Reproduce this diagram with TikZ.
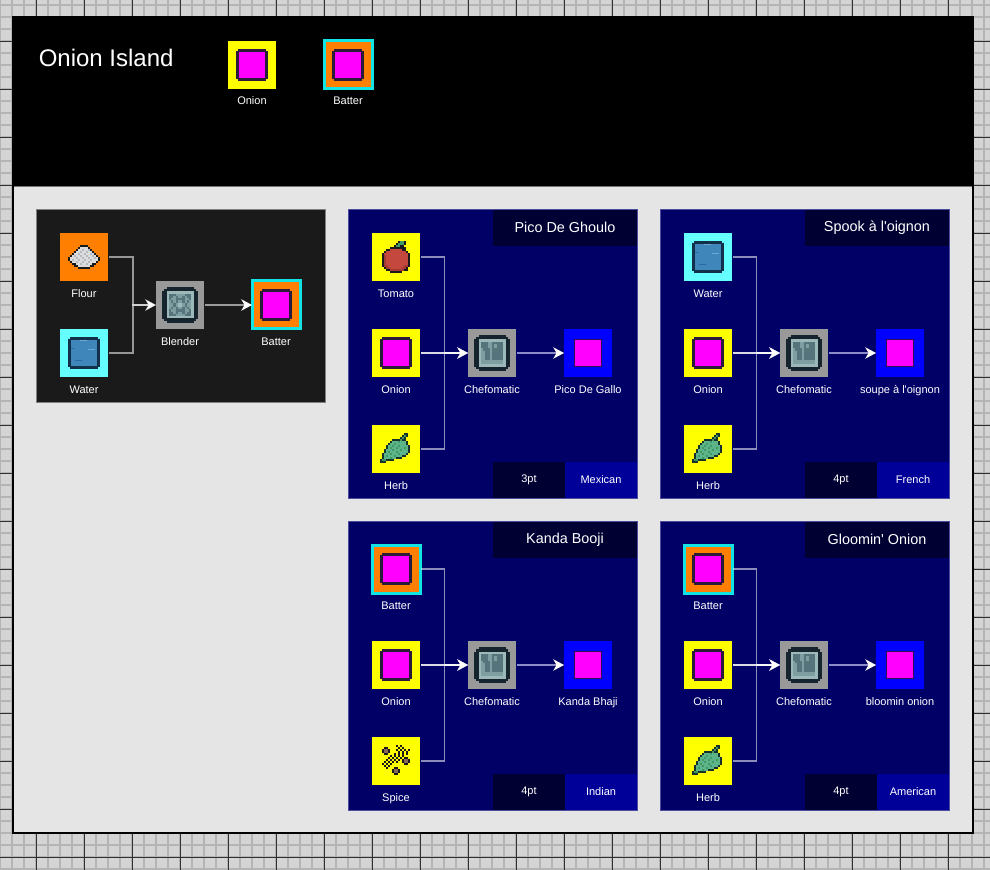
\documentclass[tikz,border=0pt]{standalone}
\usepackage{fontspec}
\setmainfont{Liberation Sans}
\usetikzlibrary{arrows.meta}
\definecolor{gridbg}{HTML}{D4D4D4}
\definecolor{gridminor}{HTML}{B4B4B4}
\definecolor{gridmajor}{HTML}{303030}
\definecolor{mainbg}{HTML}{E5E5E5}
\definecolor{cardbg}{HTML}{1A1A1A}
\definecolor{cardedge}{HTML}{808080}
\definecolor{navy}{HTML}{000066}
\definecolor{navyedge}{HTML}{4D4D9E}
\definecolor{navydark}{HTML}{000033}
\definecolor{navymid}{HTML}{000099}
\definecolor{itemyellow}{HTML}{FFFF00}
\definecolor{itemorange}{HTML}{FF8000}
\definecolor{itemcyan}{HTML}{66FFFF}
\definecolor{battedge}{HTML}{10E4E4}
\definecolor{machinegray}{HTML}{999999}
\definecolor{dishblue}{HTML}{0000FF}
\definecolor{dishedge}{HTML}{301050}
\definecolor{outwirecard}{HTML}{9A9A9A}
\definecolor{outwirenavy}{HTML}{8C8CC8}
% sprite palette
\definecolor{spa}{HTML}{2B1B3A}
\definecolor{spm}{HTML}{FF00FF}
\definecolor{spn}{HTML}{12304A}
\definecolor{spw}{HTML}{3F86BB}
\definecolor{spx}{HTML}{6AAAD4}
\definecolor{spy}{HTML}{2B6A9E}
\definecolor{spk}{HTML}{1A1A1A}
\definecolor{spo}{HTML}{DCDCDC}
\definecolor{spp}{HTML}{B4B8C0}
\definecolor{spq}{HTML}{16242E}
\definecolor{spl}{HTML}{9DB8B8}
\definecolor{spf}{HTML}{7F9EA2}
\definecolor{spd}{HTML}{56747C}
\definecolor{spr}{HTML}{C4483E}
\definecolor{sps}{HTML}{A33A34}
\definecolor{spG}{HTML}{3F9A66}
\definecolor{spH}{HTML}{16332A}
\definecolor{spg}{HTML}{5CB488}
\definecolor{spb}{HTML}{8A6A58}
\newcount\sprX
\newcount\sprY
\def\sprow#1{\sprX=0 \sprowaux#1\relax \advance\sprY by 1 }
\def\sprowaux#1{\ifx#1\relax\else\if#1.\else\fill[color=sp#1] (\the\sprX,\the\sprY) rectangle +(1.04,1.04);\fi\advance\sprX by 1 \expandafter\sprowaux\fi}
\newcommand\drawsprite[3]{\begin{scope}[shift={(#1.center)},x=#2,y=-#2,shift={(-8,-8)}]\sprY=0 #3\end{scope}}
\newcommand\spriteOnion[1]{\drawsprite{#1}{1.5pt}{%
\fill[spa] (1,0) rectangle (15,16);
\fill[spa] (0,1) rectangle (16,15);
\fill[spm] (1.4,1.4) rectangle (14.6,14.6);}}
\let\spriteBatter\spriteOnion
\newcommand\spriteWater[1]{\drawsprite{#1}{1.5pt}{%
\fill[spn] (1,0) rectangle (15,16);
\fill[spn] (0,1) rectangle (16,15);
\fill[spw] (1.4,1.4) rectangle (14.6,14.6);
\fill[spx] (6,1.4) rectangle (9.5,2.1);
\fill[spx] (10,6) rectangle (13.5,6.7);
\fill[spy] (1.4,5.5) rectangle (3,6.2);
\fill[spy] (3.5,11.5) rectangle (7,12.2);}}
\newcommand\spriteFlour[1]{\drawsprite{#1}{1.5pt}{%
\sprow{................}\sprow{................}\sprow{......kkkk......}\sprow{.....kooook.....}%
\sprow{....koopoopk....}\sprow{...koopoopook...}\sprow{..koopoopoopok..}\sprow{.kopoopoopoopok.}%
\sprow{kooopoopoopoopok}\sprow{kopoopoopoopoook}\sprow{.koopoopoopoook.}\sprow{..kkoopoopookk..}%
\sprow{...kkooooookk...}\sprow{.....kkkkkk.....}\sprow{................}\sprow{................}}}
\newcommand\spriteBlender[1]{\drawsprite{#1}{1.6875pt}{%
\sprow{..qqqqqqqqqqqq..}\sprow{.qqqqqqqqqqqqqq.}\sprow{qqllllllllllllqq}%
\sprow{qqldddffffdddlqq}\sprow{qqlddfdffdfddlqq}\sprow{qqldffddddffdlqq}\sprow{qqlfdfdffdfdflqq}\sprow{qqlffdfllfdfflqq}%
\sprow{qqlffdfllfdfflqq}\sprow{qqlfdfdffdfdflqq}\sprow{qqldffddddffdlqq}\sprow{qqlddfdffdfddlqq}\sprow{qqldddffffdddlqq}%
\sprow{qqllllllllllllqq}\sprow{.qqqqqqqqqqqqqq.}\sprow{..qqqqqqqqqqqq..}}}
\newcommand\spriteChefomatic[1]{\drawsprite{#1}{1.6875pt}{%
\sprow{..qqqqqqqqqqqq..}\sprow{.qqqqqqqqqqqqqq.}\sprow{qqllllllllllllqq}%
\sprow{qqldddffdddddlqq}\sprow{qqldddffdfdddlqq}\sprow{qqldddffdfdddlqq}\sprow{qqlfdddfdddddlqq}\sprow{qqlffddfdddddlqq}%
\sprow{qqlffddfdddddlqq}\sprow{qqlffddfdddddlqq}\sprow{qqlffddfdddddlqq}\sprow{qqlfffffffffflqq}\sprow{qqlfffffffffflqq}%
\sprow{qqllllllllllllqq}\sprow{.qqqqqqqqqqqqqq.}\sprow{..qqqqqqqqqqqq..}}}
\newcommand\spriteTomato[1]{\drawsprite{#1}{1.5pt}{%
\sprow{.........kGGk...}\sprow{........kGGGk...}\sprow{.......kGGkk....}\sprow{.....kkkkkkkk...}%
\sprow{...kkrrrrrrkk...}\sprow{..krrrrrrrrrrk..}\sprow{.krrrrrrrrrrrrk.}\sprow{.ksrrrrrrrrrrrk.}%
\sprow{.ksrrrrrrrrrrrk.}\sprow{.ksrrrrrrrrrrrk.}\sprow{.ksrrrrrrrrrrrk.}\sprow{.ksrrrrrrrrrrrk.}%
\sprow{.kssrrrrrrrrssk.}\sprow{..kssrrrrrrssk..}\sprow{...kkssssssskk..}\sprow{.....kkkkkk.....}}}
\newcommand\spriteHerb[1]{\drawsprite{#1}{1.5pt}{%
\sprow{............HH..}\sprow{...........HGH..}\sprow{..........HGH...}\sprow{......HHHHGHH...}%
\sprow{.....HgggGgggH..}\sprow{....HggGgggggH..}\sprow{...HggGggGggggH.}\sprow{...HgGggGgggGgH.}%
\sprow{..HgggGgggGgggH.}\sprow{..HgGgggGgggggH.}\sprow{.HgggGgggGgggH..}\sprow{.HgGgggGgggHH...}%
\sprow{.HgggGggHHH.....}\sprow{HGGHHHH.........}\sprow{HHH.............}\sprow{................}}}
\newcommand\spriteSpice[1]{\drawsprite{#1}{1.5pt}{%
\sprow{........k.k.....}\sprow{..kk.....k.k....}\sprow{.kbbk...k.k.k.k.}\sprow{.kbbk....k.k.k..}%
\sprow{..kk...k.k.k.k..}\sprow{.....k.k.k.k....}\sprow{....k.k.k.k.kk..}\sprow{...k.k.k.k.kbbk.}%
\sprow{..k.k.k.k..kbbk.}\sprow{.k.k.k......kk..}\sprow{..k.k...........}\sprow{...k...kk.......}%
\sprow{......kbbk......}\sprow{......kbbk......}\sprow{.......kk.......}\sprow{................}}}
\tikzset{
  itembox/.style={rectangle,minimum size=36pt,inner sep=0pt,outer sep=0pt},
  kindOnion/.style={fill=itemyellow},
  kindTomato/.style={fill=itemyellow},
  kindHerb/.style={fill=itemyellow},
  kindSpice/.style={fill=itemyellow},
  kindFlour/.style={fill=itemorange},
  kindWater/.style={fill=itemcyan},
  kindBatter/.style={fill=itemorange,draw=battedge,line width=2.25pt},
  kindBlender/.style={fill=machinegray},
  kindChefomatic/.style={fill=machinegray},
  lab/.style={text=white,font=\fontsize{8.25pt}{10pt}\selectfont,inner sep=0pt},
  dishicon/.style={rectangle,minimum size=20pt,inner sep=0pt,fill=spm,draw=dishedge,line width=.9pt},
  panelbox/.style={rectangle,minimum width=216.75pt,minimum height=216.4pt,inner sep=0pt,outer sep=0pt,fill=navy,draw=navyedge,line width=.75pt},
  cardbox/.style={rectangle,minimum width=216.75pt,minimum height=144.75pt,inner sep=0pt,outer sep=0pt,fill=cardbg,draw=cardedge,line width=.75pt},
  titlebox/.style={rectangle,minimum width=108pt,minimum height=27.4pt,inner sep=0pt,fill=navydark,text=white,font=\fontsize{10.8pt}{12pt}\selectfont},
  tagbox/.style={rectangle,minimum width=54pt,minimum height=27pt,inner sep=0pt,text=white,font=\fontsize{8.25pt}{10pt}\selectfont},
  wire/.style={draw=white,draw opacity=.55,line width=1.1pt,shorten <=.75pt,-{Stealth[length=8pt,width=8.5pt,inset=2.4pt]}},
  strongwire/.style={wire,draw opacity=.85},
  outwire/.style={line width=1.1pt,shorten <=.75pt,-{Stealth[length=8pt,width=8.5pt,inset=2.4pt,color=white]}},
}
\newcommand\ing[5]{%
  \node[itembox,kind#4] (#1) at (#2,#3) {};
  \csname sprite#4\endcsname{#1}%
  \path (#1.south) ++(0,16) node[lab,anchor=base] (#1-l) {#5};
}
\newcommand\threeing[9]{%
  \ing{#1-a}{#2+396}{#3+257}{#4}{#5}%
  \ing{#1-b}{#2+396}{#3+353}{#6}{#7}%
  \ing{#1-c}{#2+396}{#3+449}{#8}{#9}%
}
\newcommand\recipe[8]{%
  \node[panelbox] (#1) at (#2+493,#3+353.8) {};
  \node[titlebox] (#1-title) at (#2+565,#3+227.8) {#4};
  \node[tagbox,fill=navydark] (#1-pts) at (#2+529,#3+480) {#6};
  \node[tagbox,fill=navymid] (#1-cui) at (#2+601,#3+480) {#7};
  \threeing{#1}{#2}{#3}#8%
  \ing{#1-m}{#2+492}{#3+353}{Chefomatic}{Chefomatic}%
  \node[itembox,fill=dishblue] (#1-o) at (#2+588,#3+353) {};
  \node[dishicon] (#1-oi) at (#1-o.center) {};
  \path (#1-o.south) ++(0,16) node[lab,anchor=base] (#1-ol) {#5};
  \coordinate (#1-s) at (#2+444.5,#3+353);
  \draw[wire] (#1-a.east) -| (#1-s) -- (#1-m.west);
  \draw[wire] (#1-c.east) -| (#1-s) -- (#1-m.west);
  \draw[strongwire] (#1-b.east) -- (#1-m.west);
  \draw[outwire,draw=outwirenavy] (#1-m.east) -- (#1-o.west);
}
\begin{document}
\begin{tikzpicture}[x=.75pt,y=-.75pt]
\useasboundingbox (0,0) rectangle (990,870);
\fill[gridbg] (0,0) rectangle (990,870);
\foreach \gx in {0,12,...,984} \draw[gridminor,line width=1.3pt] (\gx,0) -- (\gx,870);
\foreach \gy in {5,17,...,869} \draw[gridminor,line width=1.3pt] (0,\gy) -- (990,\gy);
\foreach \gx in {36,84,...,984} \draw[gridmajor,line width=.6pt] (\gx,0) -- (\gx,870);
\foreach \gy in {41,89,...,869} \draw[gridmajor,line width=.6pt] (0,\gy) -- (990,\gy);
% frame
\fill[black] (12,16.5) rectangle (974,186);
\draw[black,line width=1.5pt,fill=mainbg] (13,186.5) rectangle (973,833);
\draw[black!55,line width=.5pt] (14,186.5) -- (972,186.5);
% header
\node[text=white,font=\fontsize{18pt}{22pt}\selectfont,inner sep=0pt,anchor=west] (heading) at (38.5,57.5) {Onion Island};
\ing{legOnion}{252}{65}{Onion}{Onion}
\ing{legBatter}{348}{65}{Batter}{Batter}
% batter card
\node[cardbox] (card) at (181,306) {};
\ing{cFlour}{84}{257}{Flour}{Flour}
\ing{cWater}{84}{353}{Water}{Water}
\ing{cBlender}{180}{305}{Blender}{Blender}
\ing{cBatter}{276}{305}{Batter}{Batter}
\coordinate (cs) at (133,305);
\draw[wire] (cFlour.east) -| (cs) -- (cBlender.west);
\draw[wire] (cWater.east) -| (cs) -- (cBlender.west);
\draw[outwire,draw=outwirecard] (cBlender.east) -- (cBatter.west);
% recipes
\recipe{pico}{0}{0}{Pico De Ghoulo}{Pico De Gallo}{3pt}{Mexican}{{Tomato}{Tomato}{Onion}{Onion}{Herb}{Herb}}
\recipe{spook}{312}{0}{Spook à l\textquotesingle oignon}{soupe à l\textquotesingle oignon}{4pt}{French}{{Water}{Water}{Onion}{Onion}{Herb}{Herb}}
\recipe{kanda}{0}{312}{Kanda Booji}{Kanda Bhaji}{4pt}{Indian}{{Batter}{Batter}{Onion}{Onion}{Spice}{Spice}}
\recipe{gloom}{312}{312}{Gloomin\textquotesingle{} Onion}{bloomin onion}{4pt}{American}{{Batter}{Batter}{Onion}{Onion}{Herb}{Herb}}
\end{tikzpicture}
\end{document}
